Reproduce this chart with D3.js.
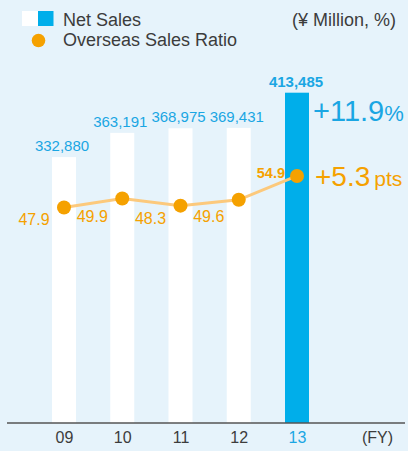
<!DOCTYPE html>
<html><head><meta charset="utf-8">
<script src="https://cdn.jsdelivr.net/npm/d3@7"></script>
<style>
html,body{margin:0;padding:0;background:#e6f3fb;}
svg{display:block;font-family:"Liberation Sans",Arial,sans-serif;}
</style></head>
<body><svg id="c" width="408" height="451"></svg>
<script>
const years = ["09","10","11","12","13"];
const netSales = [332880, 363191, 368975, 369431, 413485];
const overseasRatio = [47.9, 49.9, 48.3, 49.6, 54.9];
const salesChange = "+11.9";
const ratioChange = "+5.3";

const W = 408, H = 451;
const svg = d3.select("#c");
svg.append("rect").attr("width", W).attr("height", H).attr("fill", "#e6f3fb");

const blue = "#00aeea", blueText = "#1aa6e3", orange = "#f5a100", lineOrange = "#fcc97c", dark = "#3c3c3c";
const baseY = 423;
const x = d3.scalePoint().domain(years).range([64, 297]);
const y = d3.scaleLinear().domain([0, 413485]).range([baseY, 92.7]);
const yr = d3.scaleLinear().domain([0, 94]).range([baseY, 0]);
const bw = 24;
const last = years.length - 1;

// bars
svg.append("g").selectAll("rect").data(netSales).join("rect")
  .attr("x", (d, i) => x(years[i]) - bw / 2)
  .attr("y", d => y(d))
  .attr("width", bw)
  .attr("height", d => baseY - y(d))
  .attr("fill", (d, i) => i === last ? blue : "#ffffff");

// bar labels
svg.append("g").selectAll("text").data(netSales).join("text")
  .attr("x", (d, i) => x(years[i]) - (i === last ? 1 : 2))
  .attr("y", d => y(d) - 6)
  .attr("text-anchor", "middle")
  .attr("font-size", 15)
  .attr("font-weight", (d, i) => i === last ? "bold" : "normal")
  .attr("fill", blueText)
  .text(d => d3.format(",")(d));

// axis line
svg.append("line").attr("x1", 7).attr("x2", 405).attr("y1", baseY).attr("y2", baseY)
  .attr("stroke", "#555").attr("stroke-width", 1.5);

// x axis labels
const ax = svg.append("g").attr("transform", `translate(0,${baseY})`)
  .call(d3.axisBottom(x).tickSize(0).tickPadding(8.6));
ax.select(".domain").remove();
ax.selectAll("text").attr("font-size", 16).attr("font-family", "Liberation Sans, Arial, sans-serif")
  .attr("fill", (d) => d === years[last] ? blueText : dark);
svg.append("text").attr("x", 393).attr("y", 443).attr("text-anchor", "end")
  .attr("font-size", 16).attr("fill", dark).text("(FY)");

// ratio line
const line = d3.line().x((d, i) => x(years[i])).y(d => yr(d));
svg.append("path").datum(overseasRatio).attr("d", line)
  .attr("fill", "none").attr("stroke", lineOrange).attr("stroke-width", 3);
svg.append("g").selectAll("circle").data(overseasRatio).join("circle")
  .attr("cx", (d, i) => x(years[i])).attr("cy", d => yr(d)).attr("r", 7)
  .attr("fill", orange);

// ratio labels
svg.append("g").selectAll("text").data(overseasRatio).join("text")
  .attr("x", (d, i) => i === last ? x(years[i]) - 12 : x(years[i]) - 30)
  .attr("y", (d, i) => i === last ? yr(d) + 2 : Math.max(yr(d) + 18, 222))
  .attr("text-anchor", (d, i) => i === last ? "end" : "middle")
  .attr("font-size", (d, i) => i === last ? 14.5 : 16)
  .attr("font-weight", (d, i) => i === last ? "bold" : "normal")
  .attr("fill", orange)
  .text(d => d3.format(".1f")(d));

// change annotations
const t1 = svg.append("text").attr("x", 313).attr("y", 121).attr("fill", blueText);
t1.append("tspan").attr("font-size", 29).text(salesChange);
t1.append("tspan").attr("font-size", 22).text("%");
const t2 = svg.append("text").attr("x", 315).attr("y", 185.5).attr("fill", orange);
t2.append("tspan").attr("font-size", 28).text(ratioChange);
t2.append("tspan").attr("font-size", 21).attr("dx", 4).text("pts");

// legend
svg.append("rect").attr("x", 22).attr("y", 11).attr("width", 16).attr("height", 15).attr("fill", "#fff");
svg.append("rect").attr("x", 38).attr("y", 11).attr("width", 15.5).attr("height", 15).attr("fill", blue);
svg.append("text").attr("x", 63).attr("y", 25.5).attr("font-size", 18).attr("fill", dark).text("Net Sales");
svg.append("circle").attr("cx", 38.5).attr("cy", 40.5).attr("r", 6.8).attr("fill", orange);
svg.append("text").attr("x", 63).attr("y", 46).attr("font-size", 18).attr("fill", dark).text("Overseas Sales Ratio");
svg.append("text").attr("x", 396).attr("y", 25.5).attr("text-anchor", "end").attr("font-size", 18).attr("fill", dark).text("(¥ Million, %)");
</script></body></html>
